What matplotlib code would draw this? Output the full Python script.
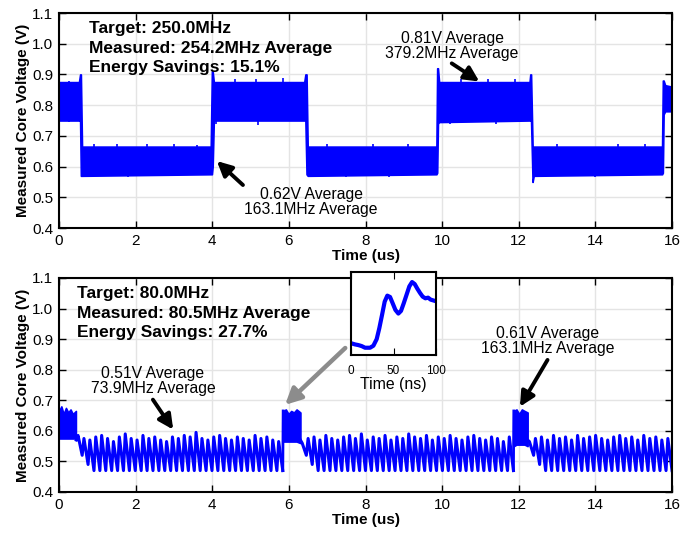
import matplotlib
matplotlib.use('Agg')
import matplotlib.pyplot as plt
import numpy as np

plt.rcParams['font.family'] = ['Liberation Sans', 'DejaVu Sans']

BLUE = '#0000ff'

# upper trace (250 MHz target): envelope of the core-voltage band
top_t = [0, 0.52, 0.55, 0.57, 0.60, 3.96, 3.99, 4.01, 4.04, 6.40, 6.43, 6.46, 6.49,
         9.85, 9.87, 9.89, 9.92, 12.28, 12.30, 12.32, 12.36, 12.39, 15.74, 15.76, 15.78,
         15.82, 16]
top_lo = [0.75, 0.75, 0.75, 0.57, 0.57, 0.575, 0.575, 0.60, 0.75, 0.75, 0.75, 0.575, 0.57,
          0.575, 0.58, 0.74, 0.745, 0.75, 0.75, 0.75, 0.55, 0.57, 0.575, 0.58, 0.77,
          0.78, 0.78]
top_hi = [0.875, 0.875, 0.90, 0.90, 0.665, 0.665, 0.91, 0.91, 0.875, 0.875, 0.90, 0.90, 0.665,
          0.665, 0.92, 0.92, 0.875, 0.875, 0.90, 0.90, 0.665, 0.665, 0.665, 0.88, 0.88,
          0.865, 0.86]

# isolated glitches sticking out of the band
glitch_t = [0.25, 0.9, 1.5, 1.8, 2.3, 3.0, 3.6, 4.1, 4.6, 5.15, 5.2, 5.85, 7.0, 7.5, 8.2,
            8.6, 9.1, 10.2, 10.5, 11.2, 11.4, 11.9, 13.0, 14.0, 14.6, 15.3]
glitch_lo = [0.745, 0.62, 0.62, 0.565, 0.62, 0.62, 0.62, 0.74, 0.80, 0.80, 0.735, 0.80,
             0.62, 0.565, 0.62, 0.565, 0.62, 0.74, 0.80, 0.80, 0.74, 0.80, 0.62, 0.565,
             0.62, 0.62]
glitch_hi = [0.88, 0.675, 0.675, 0.62, 0.675, 0.675, 0.67, 0.80, 0.885, 0.885, 0.80, 0.89,
             0.675, 0.62, 0.675, 0.62, 0.675, 0.80, 0.885, 0.885, 0.80, 0.885, 0.675, 0.62,
             0.675, 0.675]

# lower trace (80 MHz target): high-voltage bursts
burst_t = [[0, 0.06, 0.12, 0.18, 0.24, 0.30, 0.36, 0.44],
           [5.85, 5.92, 5.99, 6.06, 6.13, 6.20, 6.30],
           [11.87, 11.94, 12.01, 12.08, 12.15, 12.23]]
burst_lo = [[0.575, 0.575, 0.575, 0.575, 0.575, 0.575, 0.575, 0.575],
            [0.565, 0.565, 0.565, 0.565, 0.565, 0.565, 0.56],
            [0.55, 0.555, 0.555, 0.555, 0.555, 0.55]]
burst_hi = [[0.665, 0.68, 0.655, 0.675, 0.66, 0.67, 0.655, 0.665],
            [0.665, 0.67, 0.655, 0.665, 0.66, 0.67, 0.66],
            [0.665, 0.67, 0.655, 0.67, 0.665, 0.66]]

# lower trace: ripple between bursts (segment start/end, trough and peak of each tooth)
ripple_start = [0.45, 6.30, 12.23]
ripple_end = [5.84, 11.86, 16.0]
ripple_trough = 0.47
ripple_lead = [0.57, 0.52, 0.49]   # first troughs while the rail settles
ripple_peaks = [
    [0.585, 0.575, 0.57, 0.58, 0.585, 0.575, 0.565, 0.58, 0.59, 0.575, 0.57, 0.585,
     0.575, 0.58, 0.57, 0.565, 0.58, 0.575, 0.585, 0.58, 0.595, 0.575, 0.57, 0.58,
     0.585, 0.575, 0.57, 0.58, 0.575, 0.57, 0.585, 0.575, 0.58, 0.57, 0.565],
    [0.56, 0.575, 0.58, 0.57, 0.585, 0.575, 0.57, 0.58, 0.585, 0.575, 0.59, 0.57,
     0.58, 0.575, 0.585, 0.57, 0.58, 0.575, 0.59, 0.58, 0.575, 0.585, 0.57, 0.58,
     0.575, 0.585, 0.575, 0.57, 0.58, 0.585, 0.575, 0.57, 0.58, 0.575, 0.565, 0.58],
    [0.565, 0.575, 0.58, 0.57, 0.585, 0.575, 0.58, 0.57, 0.585, 0.575, 0.58, 0.585,
     0.575, 0.57, 0.58, 0.585, 0.575, 0.58, 0.57, 0.585, 0.575, 0.58, 0.57, 0.575],
]

# zoomed rising edge (ns)
edge_t = [0.8, 4.7, 8.6, 12.5, 16.5, 22.4, 26.3, 30.2, 33.3, 36.5, 39.6, 42.7, 45.9,
          49.0, 52.2, 55.7, 58.8, 62.0, 65.5, 68.6, 71.8, 74.9, 78.0, 81.2, 84.3,
          87.5, 90.6, 93.7, 98.8]
edge_v = [0.485, 0.482, 0.480, 0.477, 0.472, 0.472, 0.478, 0.498, 0.531, 0.571, 0.611,
          0.629, 0.625, 0.606, 0.586, 0.575, 0.583, 0.606, 0.633, 0.657, 0.670, 0.664,
          0.650, 0.637, 0.626, 0.621, 0.623, 0.617, 0.613]

x_ticks = [0, 2, 4, 6, 8, 10, 12, 14, 16]
y_ticks = [0.4, 0.5, 0.6, 0.7, 0.8, 0.9, 1.0, 1.1]

fig = plt.figure(figsize=(6.97, 5.35), dpi=100)
ax1 = fig.add_axes([0.0847, 0.5738, 0.8795, 0.4019])
ax2 = fig.add_axes([0.0847, 0.0804, 0.8795, 0.4000])


def style(ax):
    ax.set_xlim(0, 16)
    ax.set_ylim(0.4, 1.1)
    ax.set_xticks(x_ticks)
    ax.set_yticks(y_ticks)
    ax.set_yticklabels(['%.1f' % v for v in y_ticks])
    ax.grid(True, color='#e4e4e4', linewidth=1.0)
    ax.set_axisbelow(True)
    ax.tick_params(direction='in', top=True, right=True, labelsize=11,
                   length=5, width=1.0, pad=4)
    for s in ax.spines.values():
        s.set_linewidth(1.5)
    ax.set_xlabel('Time (us)', fontsize=11, fontweight='bold', labelpad=1)
    ax.set_ylabel('Measured Core Voltage (V)', fontsize=11, fontweight='bold', labelpad=2)


style(ax1)
style(ax2)

# upper trace
ax1.fill_between(top_t, top_lo, top_hi, color=BLUE, linewidth=1.2, edgecolor=BLUE)
ax1.vlines(glitch_t, glitch_lo, glitch_hi, color=BLUE, linewidth=1.2)

# lower trace
for t, lo, hi in zip(burst_t, burst_lo, burst_hi):
    ax2.fill_between(t, lo, hi, color=BLUE, linewidth=1.2, edgecolor=BLUE)

for i, peaks in enumerate(ripple_peaks):
    t0, t1 = ripple_start[i], ripple_end[i]
    p = (t1 - t0) / len(peaks)
    xs, ys = [], []
    for k, pk in enumerate(peaks):
        xs += [t0 + k * p, t0 + (k + 0.3) * p]
        ys += [ripple_lead[k] if k < len(ripple_lead) else ripple_trough, pk]
    xs.append(t1)
    ys.append(ripple_trough)
    ax2.plot(xs, ys, color=BLUE, linewidth=2.2)
    # rising edge into the next burst
    if i < len(burst_t) - 1:
        ax2.plot([t1, burst_t[i + 1][0]], [ripple_trough, burst_hi[i + 1][0]],
                 color=BLUE, linewidth=2.0)

# summary text
bold = dict(fontsize=12.5, fontweight='bold')
for ax, x0, lines, ys in [
        (ax1, 0.049, ['Target: 250.0MHz', 'Measured: 254.2MHz Average',
                      'Energy Savings: 15.1%'], [0.908, 0.815, 0.727]),
        (ax2, 0.029, ['Target: 80.0MHz', 'Measured: 80.5MHz Average',
                      'Energy Savings: 27.7%'], [0.908, 0.812, 0.726])]:
    for s, y in zip(lines, ys):
        ax.text(x0, y, s, transform=ax.transAxes, va='baseline', ha='left', **bold)

arrow = dict(arrowstyle='-|>', color='k', lw=2.8, mutation_scale=22, shrinkA=0, shrinkB=0)
note = dict(fontsize=11.3, ha='center', va='center', linespacing=1.0)

ax1.annotate('', xy=(4.12, 0.618), xytext=(4.80, 0.54), arrowprops=arrow)
ax1.text(6.58, 0.484, '0.62V Average\n163.1MHz Average', **note)
ax1.annotate('', xy=(10.97, 0.877), xytext=(10.25, 0.936), arrowprops=arrow)
ax1.text(10.26, 0.994, '0.81V Average\n379.2MHz Average', **note)

ax2.annotate('', xy=(2.98, 0.604), xytext=(2.45, 0.702), arrowprops=arrow)
ax2.text(2.45, 0.763, '0.51V Average\n73.9MHz Average', **note)
ax2.annotate('', xy=(12.03, 0.679), xytext=(12.75, 0.832), arrowprops=arrow)
ax2.text(12.76, 0.894, '0.61V Average\n163.1MHz Average', **note)
ax2.annotate('', xy=(5.9, 0.685), xytext=(7.47, 0.871),
             arrowprops=dict(arrowstyle='-|>', color='#8c8c8c', lw=3.2, mutation_scale=24,
                             shrinkA=0, shrinkB=0))

# inset: rising edge detail
axi = fig.add_axes([0.5036, 0.3364, 0.122, 0.155])
axi.plot(edge_t, edge_v, color=BLUE, linewidth=3.0)
axi.set_xlim(0, 100)
axi.set_ylim(0.45, 0.70)
axi.set_xticks([0, 50, 100])
axi.set_yticks([])
axi.tick_params(direction='in', top=True, labelsize=8.5, length=5, pad=7)
for s in axi.spines.values():
    s.set_linewidth(1.5)
axi.set_xlabel('Time (ns)', fontsize=11.4, labelpad=0)

fig.savefig('out.png', dpi=100)
